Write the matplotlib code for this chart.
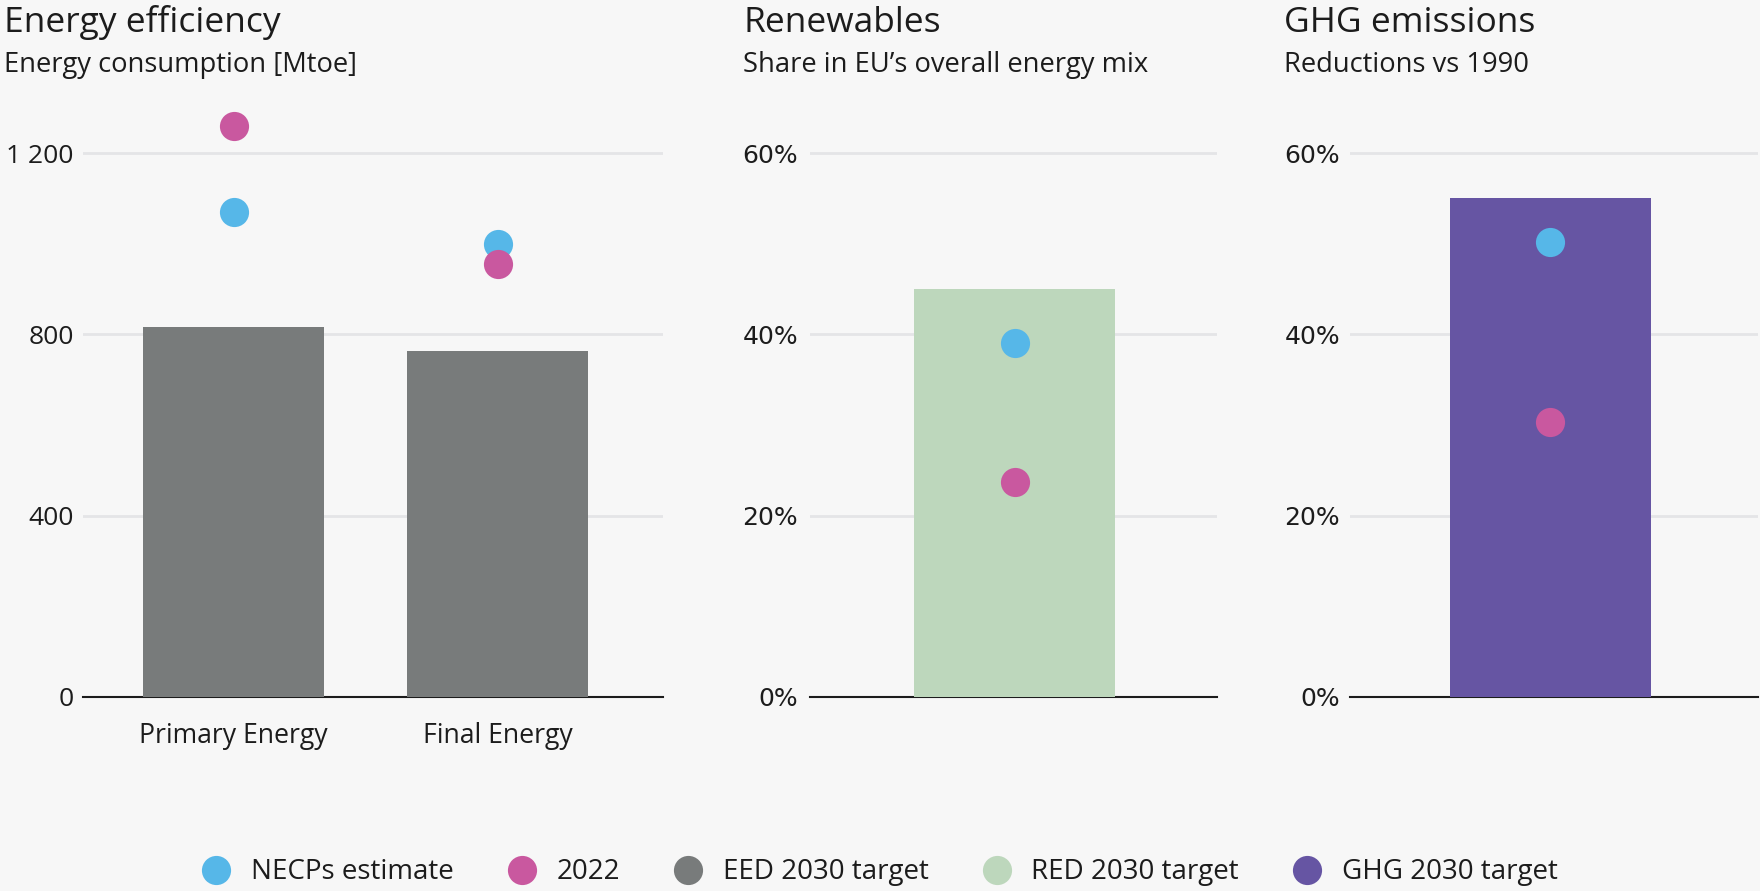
import matplotlib
matplotlib.use("Agg")
import matplotlib.pyplot as plt
from matplotlib.lines import Line2D
from matplotlib.ticker import FuncFormatter

# ---- data -------------------------------------------------------------
ee_categories = ["Primary Energy", "Final Energy"]
ee_target_2030 = [816, 763]        # EED 2030 target [Mtoe]
ee_necp_estimate = [1069, 999]     # NECPs estimate [Mtoe]
ee_2022 = [1260, 955]              # 2022 consumption [Mtoe]
ee_ticks = [0, 400, 800, 1200]

res_target_2030 = [45.0]           # RED 2030 target [%]
res_necp_estimate = [39.0]
res_2022 = [23.7]

ghg_target_2030 = [55.0]           # GHG 2030 target [% reduction vs 1990]
ghg_necp_estimate = [50.2]
ghg_2022 = [30.3]
pct_ticks = [0, 20, 40, 60]

panel_titles = ["Energy efficiency", "Renewables", "GHG emissions"]
panel_subtitles = ["Energy consumption [Mtoe]",
                   "Share in EU\u2019s overall energy mix",
                   "Reductions vs 1990"]
legend_labels = ["NECPs estimate", "2022", "EED 2030 target",
                 "RED 2030 target", "GHG 2030 target"]

# ---- style ------------------------------------------------------------
BLUE = "#56b7e8"
PINK = "#c9589f"
GREY = "#787b7b"
GREEN = "#bdd7bc"
PURPLE = "#6655a3"
BG = "#f7f7f7"
GRID = "#e4e5e7"
INK = "#1c1c1c"
DOT_SIZE = 21  # points

plt.rcParams["font.family"] = ["Open Sans", "DejaVu Sans"]

W, H = 1760, 891
fig = plt.figure(figsize=(W / 100, H / 100), dpi=100, facecolor=BG)


def px_axes(x0, x1, y_top, y_bot):
    return fig.add_axes([x0 / W, 1 - y_bot / H, (x1 - x0) / W, (y_bot - y_top) / H])


def style_axes(ax, ticks, top, formatter, tick_family, tick_size, tick_pad):
    ax.set_facecolor(BG)
    ax.set_ylim(0, top)
    ax.set_yticks(ticks)
    ax.yaxis.set_major_formatter(formatter)
    for side in ("top", "right", "left"):
        ax.spines[side].set_visible(False)
    ax.spines["bottom"].set_color(INK)
    ax.spines["bottom"].set_linewidth(1.5)
    ax.spines["bottom"].set_zorder(1.5)
    ax.grid(axis="y", color=GRID, linewidth=2.0)
    ax.set_axisbelow(True)
    ax.tick_params(axis="y", length=0, pad=tick_pad, labelsize=tick_size, labelcolor=INK)
    for lab in ax.get_yticklabels():
        lab.set_family(tick_family)


thousands = FuncFormatter(lambda v, _: f"{int(v):,}".replace(",", " "))
percent = FuncFormatter(lambda v, _: f"{int(v)}%")

Y_TOP, Y_BOT = 100, 697
ee_top = 1317.2
pct_top = 65.86

# ---- panel 1: energy efficiency --------------------------------------
ax1 = px_axes(82.6, 663, Y_TOP, Y_BOT)
x_ee = list(range(len(ee_categories)))
ax1.bar(x_ee, ee_target_2030, width=0.6875, color=GREY, zorder=2)
ax1.scatter(x_ee, ee_necp_estimate, s=DOT_SIZE ** 2, color=BLUE, linewidths=0, zorder=3)
ax1.scatter(x_ee, ee_2022, s=DOT_SIZE ** 2, color=PINK, linewidths=0, zorder=4)
ax1.set_xlim(-0.572, 1.627)
ax1.set_xticks(x_ee)
ax1.set_xticklabels(ee_categories, fontsize=19.2, color=INK)
style_axes(ax1, ee_ticks, ee_top, thousands, ["Open Sans"], 19, 6.5)
ax1.tick_params(axis="x", length=0, pad=18)

# ---- panel 2: renewables ---------------------------------------------
ax2 = px_axes(809.7, 1217, Y_TOP, Y_BOT)
ax2.bar([0], res_target_2030, width=1.0, color=GREEN, zorder=2)
ax2.scatter([0], res_necp_estimate, s=DOT_SIZE ** 2, color=BLUE, linewidths=0, zorder=3)
ax2.scatter([0], res_2022, s=DOT_SIZE ** 2, color=PINK, linewidths=0, zorder=4)
ax2.set_xlim(-1.021, 1.008)
ax2.set_xticks([])
style_axes(ax2, pct_ticks, pct_top, percent, ["DejaVu Sans"], 18, 8.5)

# ---- panel 3: GHG emissions ------------------------------------------
ax3 = px_axes(1350.3, 1758, Y_TOP, Y_BOT)
ax3.bar([0], ghg_target_2030, width=1.0, color=PURPLE, zorder=2)
ax3.scatter([0], ghg_necp_estimate, s=DOT_SIZE ** 2, color=BLUE, linewidths=0, zorder=3)
ax3.scatter([0], ghg_2022, s=DOT_SIZE ** 2, color=PINK, linewidths=0, zorder=4)
ax3.set_xlim(-0.9965, 1.035)
ax3.set_xticks([])
style_axes(ax3, pct_ticks, pct_top, percent, ["DejaVu Sans"], 18, 7.5)

# ---- headings ---------------------------------------------------------
title_x = [4, 743, 1284]
for x, title, sub in zip(title_x, panel_titles, panel_subtitles):
    fig.text(x / W, 1 - 32.3 / H, title, fontsize=25.5, color=INK,
             ha="left", va="baseline")
    fig.text(x / W, 1 - 71.7 / H, sub, fontsize=19.7, color=INK,
             ha="left", va="baseline")

# ---- legend -----------------------------------------------------------
legend_colors = [BLUE, PINK, GREY, GREEN, PURPLE]
handles = [Line2D([], [], marker="o", linestyle="none", markersize=DOT_SIZE,
                  markerfacecolor=c, markeredgewidth=0) for c in legend_colors]
fig.legend(handles, legend_labels, loc="center", bbox_to_anchor=(0.5, 1 - 872.3 / H),
           ncol=5, frameon=False, fontsize=20, handlelength=1.0,
           handletextpad=0.75, columnspacing=1.95, labelcolor=INK)

fig.savefig("out.png", dpi=100, facecolor=BG)
